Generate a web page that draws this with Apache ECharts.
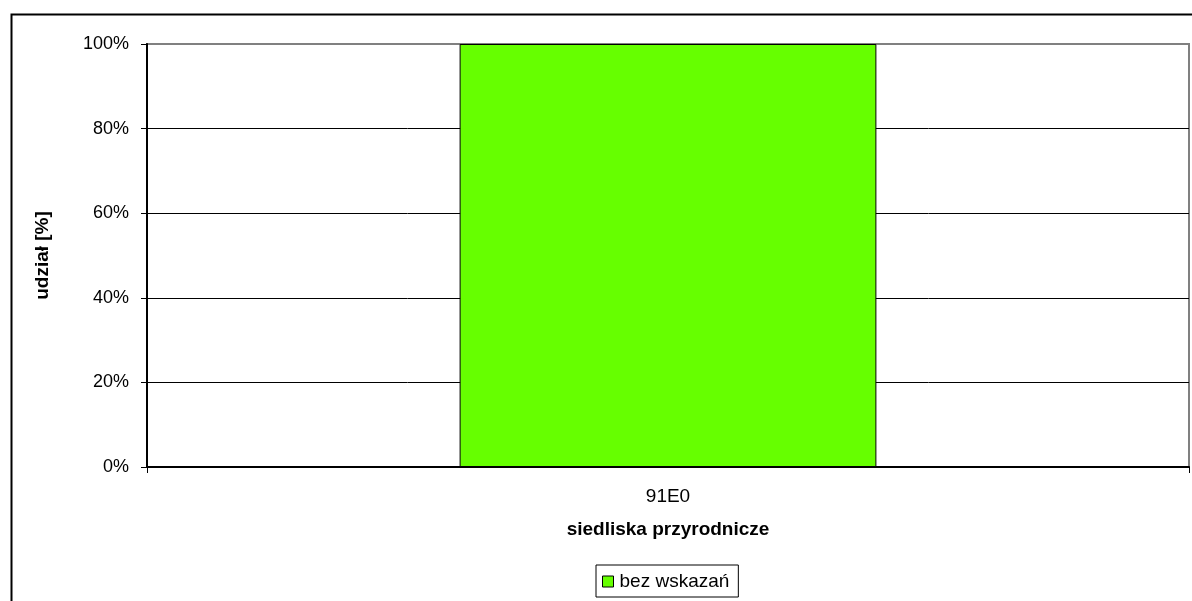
<!DOCTYPE html>
<html><head><meta charset="utf-8">
<script src="https://cdn.jsdelivr.net/npm/echarts@6/dist/echarts.min.js"></script>
<style>html,body{margin:0;padding:0;background:#fff}#c{width:1192px;height:601px}</style>
</head><body><div id="c"></div>
<script>
const categories = ['91E0'];
const seriesName = 'bez wskazań';
const values = [100];
const yTicks = [0, 20, 40, 60, 80, 100];
const xTitle = 'siedliska przyrodnicze';
const yTitle = 'udział [%]';

const chart = echarts.init(document.getElementById('c'));
const font = 'Liberation Sans, Arial, sans-serif';
chart.setOption({
  animation: false,
  backgroundColor: '#fff',
  graphic: [{
    type: 'rect', left: 9, top: 12, z: 0,
    shape: { width: 1300, height: 700 },
    style: { fill: 'none', stroke: '#000', lineWidth: 2 }
  }],
  grid: { left: 147, right: 3, top: 44, bottom: 134, show: true, borderColor: '#808080', borderWidth: 2, backgroundColor: 'transparent' },
  legend: {
    bottom: 4, left: 596,
    data: [seriesName],
    borderColor: '#000', borderWidth: 1, padding: [7, 9, 6, 6],
    itemWidth: 11, itemHeight: 11, itemGap: 4,
    icon: 'rect',
    itemStyle: { borderColor: '#000', borderWidth: 1 },
    textStyle: { fontFamily: font, fontSize: 19, color: '#000', padding: [0, 0, 0, 1] }
  },
  xAxis: {
    type: 'category', data: categories,
    name: xTitle, nameLocation: 'middle', nameGap: 53,
    nameTextStyle: { fontFamily: font, fontSize: 19, fontWeight: 'bold', color: '#000' },
    axisLine: { lineStyle: { color: '#000', width: 2 } },
    axisTick: { show: true, alignWithLabel: false, length: 6, lineStyle: { color: '#000' } },
    axisLabel: { fontFamily: font, fontSize: 19, color: '#000', margin: 20 },
    splitLine: { show: false }
  },
  yAxis: {
    type: 'value', min: 0, max: 100, interval: 20,
    name: yTitle, nameLocation: 'middle', nameGap: 95, nameRotate: 90,
    nameTextStyle: { fontFamily: font, fontSize: 19, fontWeight: 'bold', color: '#000' },
    axisLine: { show: true, lineStyle: { color: '#000', width: 2 } },
    axisTick: { show: true, length: 6, lineStyle: { color: '#000' } },
    axisLabel: { fontFamily: font, fontSize: 18, color: '#000', margin: 18, formatter: v => yTicks.includes(v) ? v + '%' : '' },
    splitLine: { show: true, lineStyle: { color: ['#000', '#000', '#000', '#000', '#000', '#808080'], width: 1 } }
  },
  series: [{
    name: seriesName, type: 'bar', data: values,
    barWidth: '40%',
    itemStyle: { color: '#66FF00', borderColor: '#000', borderWidth: 1 }
  }]
});
</script></body></html>
